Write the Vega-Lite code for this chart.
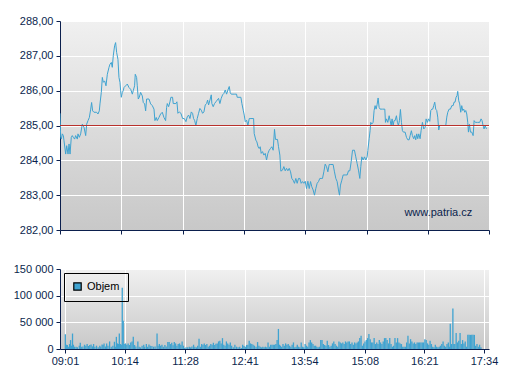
{
"$schema": "https://vega.github.io/schema/vega-lite/v6.json",
"autosize": {"type": "pad"},
"padding": {"left": 13, "top": 15, "right": 4, "bottom": 4},
"background": "white",
"bounds": "flush",
"spacing": 39,
"resolve": {"legend": {"color": "independent"}, "scale": {"color": "independent"}},
"config": {
  "font": "Liberation Sans",
  "view": {"stroke": null, "fill": {"gradient": "linear", "x1": 0, "y1": 0, "x2": 0, "y2": 1, "stops": [{"offset": 0, "color": "#f0f0f0"}, {"offset": 1, "color": "#c8c8c8"}]}},
  "axis": {"domainColor": "#0b1f4d", "tickColor": "#0b1f4d", "labelColor": "#0b1f4d", "labelFont": "Liberation Sans", "labelFontSize": 11, "gridColor": "#ffffff", "gridWidth": 1, "gridOpacity": 1, "tickSize": 4, "title": null, "domainWidth": 1, "tickWidth": 1, "labelOverlap": false}
},
"datasets": {
"price": [
{"t":541,"p":285.35},{"t":541.8,"p":284.66},{"t":542.6,"p":284.61},{"t":543.8,"p":284.76},{"t":545,"p":284.71},{"t":545.8,"p":284.56},{"t":547.8,"p":284.18},{"t":549,"p":284.42},{"t":550.6,"p":284.18},{"t":551.8,"p":284.47},{"t":553,"p":284.18},{"t":554.5,"p":284.66},{"t":555.7,"p":284.71},{"t":556.9,"p":284.66},{"t":558.5,"p":284.61},{"t":559.7,"p":284.71},{"t":561.7,"p":284.61},{"t":562.5,"p":284.76},{"t":564.1,"p":284.66},{"t":565.7,"p":284.76},{"t":567.7,"p":285.04},{"t":569.7,"p":284.95},{"t":571.7,"p":284.71},{"t":572.9,"p":285.04},{"t":574.5,"p":285.14},{"t":576.1,"p":285.23},{"t":577.7,"p":285.47},{"t":578.8,"p":285.66},{"t":580,"p":285.42},{"t":581.6,"p":285.38},{"t":584.8,"p":285.38},{"t":586.4,"p":285.33},{"t":588,"p":285.42},{"t":588.8,"p":285.62},{"t":590.4,"p":285.95},{"t":591.6,"p":286.38},{"t":592.8,"p":286.24},{"t":594.4,"p":286.28},{"t":596,"p":286.14},{"t":597.6,"p":286.47},{"t":599.6,"p":286.67},{"t":600.8,"p":286.76},{"t":602.4,"p":286.81},{"t":603.5,"p":286.67},{"t":604.7,"p":287.0},{"t":606.3,"p":287.29},{"t":607.5,"p":287.38},{"t":608.7,"p":287.1},{"t":610.3,"p":286.9},{"t":611.5,"p":286.38},{"t":612.7,"p":286.24},{"t":613.5,"p":286.0},{"t":614.3,"p":285.81},{"t":615.5,"p":285.95},{"t":616.7,"p":286.0},{"t":617.5,"p":286.09},{"t":619.5,"p":286.14},{"t":621.5,"p":286.19},{"t":623.5,"p":286.09},{"t":625.5,"p":286.04},{"t":627.5,"p":285.9},{"t":628.6,"p":286.0},{"t":630.2,"p":286.14},{"t":631,"p":286.47},{"t":632.6,"p":286.38},{"t":633.4,"p":286.14},{"t":634.6,"p":285.76},{"t":635.8,"p":285.81},{"t":637.4,"p":285.95},{"t":639.4,"p":285.85},{"t":640.6,"p":285.66},{"t":642.2,"p":285.62},{"t":643.4,"p":285.42},{"t":644.6,"p":285.76},{"t":647.4,"p":285.76},{"t":649.4,"p":285.62},{"t":651.4,"p":285.57},{"t":653.4,"p":285.47},{"t":654.5,"p":285.14},{"t":656.1,"p":285.23},{"t":657.3,"p":285.14},{"t":659.3,"p":285.23},{"t":661.3,"p":285.33},{"t":663.3,"p":285.38},{"t":665.3,"p":285.23},{"t":667.3,"p":285.14},{"t":668.5,"p":285.52},{"t":669.3,"p":285.63},{"t":670.9,"p":285.54},{"t":672.5,"p":285.68},{"t":673.6,"p":285.81},{"t":675.6,"p":285.81},{"t":676.4,"p":285.63},{"t":679.6,"p":285.63},{"t":680.8,"p":285.68},{"t":682.0,"p":285.35},{"t":683.6,"p":285.39},{"t":685.6,"p":285.35},{"t":687.6,"p":285.2},{"t":689.6,"p":285.2},{"t":691.6,"p":285.11},{"t":693.2,"p":285.25},{"t":694.8,"p":285.3},{"t":696.4,"p":285.2},{"t":698.0,"p":285.39},{"t":699.5,"p":285.35},{"t":700.7,"p":285.2},{"t":701.9,"p":285.15},{"t":703.5,"p":285.0},{"t":705.1,"p":285.2},{"t":706.7,"p":285.35},{"t":708.3,"p":285.49},{"t":709.9,"p":285.44},{"t":711.5,"p":285.35},{"t":713.1,"p":285.39},{"t":714.7,"p":285.59},{"t":716.3,"p":285.63},{"t":717.5,"p":285.73},{"t":718.7,"p":285.59},{"t":720.3,"p":285.73},{"t":721.9,"p":285.88},{"t":722.6,"p":285.63},{"t":724.2,"p":285.54},{"t":725.8,"p":285.63},{"t":727.4,"p":285.68},{"t":729.0,"p":285.73},{"t":730.6,"p":285.78},{"t":732.2,"p":285.63},{"t":733.8,"p":285.78},{"t":735.4,"p":285.88},{"t":737.0,"p":285.92},{"t":738.6,"p":286.02},{"t":740.2,"p":285.9},{"t":741.8,"p":286.02},{"t":743.4,"p":286.12},{"t":744.6,"p":285.94},{"t":745.8,"p":285.9},{"t":749.3,"p":285.9},{"t":752.1,"p":285.9},{"t":752.9,"p":285.81},{"t":757.3,"p":285.81},{"t":758.5,"p":285.63},{"t":760.1,"p":285.44},{"t":761.3,"p":285.3},{"t":762.5,"p":285.11},{"t":764.1,"p":285.15},{"t":765.7,"p":285.0},{"t":767.3,"p":285.2},{"t":769.3,"p":285.2},{"t":772.5,"p":285.2},{"t":773.2,"p":284.77},{"t":775.2,"p":284.58},{"t":776.4,"p":284.53},{"t":778.0,"p":284.38},{"t":779.2,"p":284.34},{"t":780.4,"p":284.39},{"t":781.6,"p":284.2},{"t":783.2,"p":284.25},{"t":784.8,"p":284.15},{"t":786.4,"p":284.2},{"t":788.0,"p":284.01},{"t":789.6,"p":284.2},{"t":791.2,"p":284.29},{"t":792.7,"p":284.34},{"t":794.3,"p":284.39},{"t":795.9,"p":284.29},{"t":797.5,"p":284.89},{"t":798.7,"p":284.6},{"t":801.1,"p":284.6},{"t":802.3,"p":284.39},{"t":803.9,"p":284.15},{"t":805.1,"p":283.69},{"t":807.1,"p":283.72},{"t":808.7,"p":283.82},{"t":810.3,"p":283.7},{"t":811.9,"p":283.77},{"t":813.5,"p":283.7},{"t":815.1,"p":283.77},{"t":816.7,"p":283.67},{"t":818.2,"p":283.48},{"t":819.8,"p":283.43},{"t":821.4,"p":283.34},{"t":823.0,"p":283.48},{"t":824.6,"p":283.34},{"t":826.2,"p":283.48},{"t":827.8,"p":283.48},{"t":829.4,"p":283.34},{"t":831.0,"p":283.39},{"t":832.6,"p":283.34},{"t":834.2,"p":283.4},{"t":835.8,"p":283.19},{"t":837.4,"p":283.4},{"t":839.0,"p":283.19},{"t":840.6,"p":283.39},{"t":842.1,"p":283.24},{"t":843.7,"p":283.15},{"t":845.3,"p":283.0},{"t":846.9,"p":283.19},{"t":848.5,"p":283.34},{"t":850.1,"p":283.39},{"t":851.7,"p":283.48},{"t":853.3,"p":283.48},{"t":854.9,"p":283.48},{"t":856.5,"p":283.67},{"t":858.1,"p":283.89},{"t":859.7,"p":283.82},{"t":861.3,"p":283.67},{"t":862.9,"p":283.88},{"t":864.9,"p":283.88},{"t":867.6,"p":283.88},{"t":869.2,"p":283.67},{"t":870.8,"p":283.48},{"t":872.4,"p":283.39},{"t":874.0,"p":283.15},{"t":875.2,"p":283.0},{"t":876.4,"p":283.29},{"t":878.0,"p":283.43},{"t":879.6,"p":283.58},{"t":882.0,"p":283.58},{"t":884.4,"p":283.58},{"t":886.0,"p":283.7},{"t":887.6,"p":283.7},{"t":889.2,"p":283.96},{"t":890.8,"p":284.29},{"t":893.1,"p":284.29},{"t":894.7,"p":284.1},{"t":896.3,"p":283.91},{"t":897.9,"p":283.72},{"t":899.5,"p":283.48},{"t":900.7,"p":283.82},{"t":901.9,"p":284.1},{"t":903.5,"p":284.01},{"t":905.1,"p":284.1},{"t":906.7,"p":284.01},{"t":908.3,"p":284.1},{"t":909.1,"p":284.28},{"t":910.7,"p":284.62},{"t":911.8,"p":284.85},{"t":912.6,"p":285.09},{"t":913.8,"p":285.04},{"t":915.4,"p":285.09},{"t":916.6,"p":285.43},{"t":917.8,"p":285.57},{"t":919.0,"p":285.47},{"t":920.2,"p":285.6},{"t":921.4,"p":285.79},{"t":922.6,"p":285.52},{"t":923.8,"p":285.47},{"t":926.6,"p":285.47},{"t":929.4,"p":285.47},{"t":930.2,"p":285.09},{"t":931.4,"p":285.19},{"t":933.0,"p":285.09},{"t":934.6,"p":285.28},{"t":935.8,"p":285.14},{"t":937.0,"p":285.0},{"t":938.1,"p":285.19},{"t":939.3,"p":285.0},{"t":940.5,"p":285.14},{"t":941.7,"p":285.14},{"t":943.3,"p":285.28},{"t":944.5,"p":285.09},{"t":945.7,"p":285.0},{"t":946.9,"p":285.14},{"t":948.1,"p":285.46},{"t":949.3,"p":285.09},{"t":950.5,"p":284.85},{"t":951.7,"p":284.81},{"t":953.7,"p":284.81},{"t":955.3,"p":284.66},{"t":956.9,"p":284.59},{"t":958.5,"p":284.59},{"t":959.7,"p":284.71},{"t":961.2,"p":284.85},{"t":962.4,"p":284.71},{"t":964.0,"p":284.62},{"t":965.2,"p":284.71},{"t":966.4,"p":284.59},{"t":967.6,"p":284.76},{"t":968.8,"p":284.62},{"t":970.0,"p":284.76},{"t":971.6,"p":284.62},{"t":972.8,"p":284.85},{"t":974.4,"p":285.09},{"t":976.0,"p":284.9},{"t":977.6,"p":284.95},{"t":978.8,"p":285.19},{"t":980.4,"p":285.09},{"t":981.6,"p":285.19},{"t":983.2,"p":285.12},{"t":984.4,"p":285.43},{"t":985.6,"p":285.47},{"t":986.7,"p":285.47},{"t":987.9,"p":285.57},{"t":989.1,"p":285.67},{"t":990.3,"p":285.47},{"t":991.5,"p":285.43},{"t":992.7,"p":285.24},{"t":993.9,"p":284.87},{"t":995.1,"p":285.0},{"t":1002.3,"p":285.0},{"t":1003.5,"p":285.24},{"t":1004.7,"p":285.38},{"t":1006.3,"p":285.47},{"t":1007.9,"p":285.47},{"t":1009.5,"p":285.57},{"t":1011.1,"p":285.57},{"t":1012.2,"p":285.67},{"t":1013.4,"p":285.67},{"t":1014.6,"p":285.81},{"t":1015.8,"p":285.86},{"t":1016.6,"p":285.98},{"t":1017.8,"p":285.71},{"t":1019.0,"p":285.62},{"t":1020.2,"p":285.38},{"t":1021.4,"p":285.57},{"t":1022.6,"p":285.43},{"t":1023.8,"p":285.47},{"t":1025.0,"p":285.38},{"t":1026.2,"p":285.43},{"t":1027.4,"p":285.33},{"t":1028.6,"p":285.09},{"t":1029.4,"p":284.81},{"t":1030.6,"p":285.04},{"t":1031.8,"p":284.81},{"t":1033.4,"p":284.81},{"t":1035.0,"p":284.71},{"t":1036.2,"p":285.14},{"t":1037.7,"p":285.09},{"t":1040.1,"p":285.09},{"t":1042.9,"p":285.09},{"t":1044.5,"p":285.19},{"t":1045.7,"p":285.14},{"t":1046.9,"p":285.0},{"t":1048.1,"p":284.9},{"t":1049.3,"p":285.0},{"t":1051,"p":284.9}
],
"vol": [
{"t":541.4,"v":27800},{"t":542.6,"v":8000},{"t":543.8,"v":7400},{"t":545.0,"v":4300},{"t":546.6,"v":9300},{"t":547.8,"v":16700},{"t":549.0,"v":6200},{"t":550.2,"v":29000},{"t":551.3,"v":8000},{"t":552.5,"v":4300},{"t":554.5,"v":4300},{"t":556.1,"v":3100},{"t":558.5,"v":6200},{"t":559.7,"v":11700},{"t":560.9,"v":4300},{"t":562.9,"v":4900},{"t":564.9,"v":8000},{"t":566.5,"v":6200},{"t":568.1,"v":9300},{"t":569.7,"v":5600},{"t":571.3,"v":7400},{"t":572.9,"v":8600},{"t":574.5,"v":4900},{"t":576.0,"v":9300},{"t":577.6,"v":4300},{"t":579.6,"v":6200},{"t":581.6,"v":3100},{"t":583.6,"v":6200},{"t":584.8,"v":4300},{"t":586.4,"v":8600},{"t":587.6,"v":7400},{"t":588.8,"v":10500},{"t":590.4,"v":4900},{"t":592.0,"v":10500},{"t":593.6,"v":6200},{"t":595.6,"v":14200},{"t":597.6,"v":4300},{"t":599.6,"v":6200},{"t":601.5,"v":13600},{"t":602.7,"v":4300},{"t":603.9,"v":22800},{"t":605.1,"v":10500},{"t":606.3,"v":9300},{"t":607.5,"v":29000},{"t":608.7,"v":9300},{"t":609.9,"v":8000},{"t":611.1,"v":115000},{"t":612.3,"v":53000},{"t":613.5,"v":9300},{"t":615.1,"v":10500},{"t":616.7,"v":8000},{"t":618.3,"v":10500},{"t":619.9,"v":7400},{"t":621.5,"v":12300},{"t":623.1,"v":14200},{"t":624.6,"v":22800},{"t":626.2,"v":7400},{"t":627.8,"v":4900},{"t":630.2,"v":14200},{"t":631.8,"v":4300},{"t":633.4,"v":3100},{"t":635.4,"v":6200},{"t":637.4,"v":8000},{"t":638.6,"v":4300},{"t":640.6,"v":9300},{"t":642.2,"v":4300},{"t":643.8,"v":8600},{"t":645.4,"v":6200},{"t":647.4,"v":5600},{"t":649.4,"v":4300},{"t":651.3,"v":4900},{"t":653.7,"v":29000},{"t":654.9,"v":6200},{"t":656.5,"v":9300},{"t":658.1,"v":6200},{"t":659.7,"v":8000},{"t":661.3,"v":4300},{"t":663.3,"v":7400},{"t":664.9,"v":4900},{"t":666.9,"v":13000},{"t":668.5,"v":13000},{"t":670.1,"v":9300},{"t":671.7,"v":11700},{"t":673.3,"v":6800},{"t":674.8,"v":13000},{"t":676.4,"v":10500},{"t":678.0,"v":6200},{"t":679.6,"v":9300},{"t":681.2,"v":10500},{"t":682.8,"v":8000},{"t":684.4,"v":14200},{"t":686.0,"v":6200},{"t":687.6,"v":1900},{"t":689.2,"v":3100},{"t":691.2,"v":3100},{"t":693.2,"v":4300},{"t":694.8,"v":3100},{"t":696.4,"v":4900},{"t":698.4,"v":8000},{"t":700.0,"v":4300},{"t":701.9,"v":3100},{"t":703.5,"v":6200},{"t":705.1,"v":19100},{"t":706.7,"v":4300},{"t":708.3,"v":9300},{"t":709.9,"v":8000},{"t":711.5,"v":10500},{"t":713.1,"v":7400},{"t":714.7,"v":9300},{"t":716.3,"v":4300},{"t":717.9,"v":6200},{"t":719.5,"v":9300},{"t":721.1,"v":8000},{"t":722.7,"v":11700},{"t":724.3,"v":7400},{"t":725.8,"v":9900},{"t":727.4,"v":10500},{"t":729.0,"v":14200},{"t":730.6,"v":15400},{"t":732.2,"v":10500},{"t":733.8,"v":20400},{"t":735.4,"v":8000},{"t":737.0,"v":6200},{"t":738.6,"v":14200},{"t":740.2,"v":10500},{"t":741.8,"v":8000},{"t":743.4,"v":12300},{"t":745.0,"v":6200},{"t":747.0,"v":3100},{"t":749.0,"v":8000},{"t":751.0,"v":4300},{"t":752.9,"v":3100},{"t":754.9,"v":4300},{"t":756.9,"v":1900},{"t":758.5,"v":8000},{"t":760.1,"v":5600},{"t":761.7,"v":4300},{"t":763.3,"v":7400},{"t":764.9,"v":8000},{"t":766.5,"v":15400},{"t":768.1,"v":10500},{"t":769.7,"v":9300},{"t":771.3,"v":8000},{"t":772.9,"v":6200},{"t":774.9,"v":4300},{"t":776.8,"v":13000},{"t":778.4,"v":6200},{"t":780.0,"v":4300},{"t":781.6,"v":3100},{"t":783.2,"v":4300},{"t":784.8,"v":3100},{"t":786.4,"v":4300},{"t":788.0,"v":3100},{"t":789.6,"v":12300},{"t":791.2,"v":4300},{"t":792.8,"v":8000},{"t":794.4,"v":8000},{"t":796.0,"v":8000},{"t":797.6,"v":8000},{"t":799.2,"v":9300},{"t":800.7,"v":16700},{"t":802.3,"v":37600},{"t":803.5,"v":8000},{"t":804.7,"v":6200},{"t":806.3,"v":4300},{"t":807.9,"v":9300},{"t":809.5,"v":6200},{"t":811.1,"v":10500},{"t":812.7,"v":8000},{"t":814.3,"v":9300},{"t":815.9,"v":6200},{"t":817.5,"v":4300},{"t":819.1,"v":8000},{"t":820.7,"v":12300},{"t":822.3,"v":3100},{"t":823.9,"v":4300},{"t":825.4,"v":8000},{"t":827.0,"v":4300},{"t":828.6,"v":3100},{"t":830.2,"v":12300},{"t":831.8,"v":4300},{"t":833.4,"v":3100},{"t":835.0,"v":9300},{"t":836.6,"v":6200},{"t":838.2,"v":4300},{"t":839.8,"v":12300},{"t":841.4,"v":16700},{"t":843.0,"v":12300},{"t":844.6,"v":9300},{"t":846.2,"v":6200},{"t":847.8,"v":6200},{"t":849.3,"v":4300},{"t":850.9,"v":3100},{"t":852.5,"v":4300},{"t":854.1,"v":16700},{"t":855.7,"v":16700},{"t":857.3,"v":9300},{"t":858.9,"v":7400},{"t":860.5,"v":6200},{"t":862.1,"v":15400},{"t":863.7,"v":7400},{"t":865.3,"v":4300},{"t":866.9,"v":6200},{"t":868.5,"v":10500},{"t":870.1,"v":14200},{"t":871.7,"v":9300},{"t":873.3,"v":6200},{"t":874.9,"v":4300},{"t":876.4,"v":14200},{"t":878.0,"v":12300},{"t":879.6,"v":10500},{"t":881.2,"v":12300},{"t":882.8,"v":9300},{"t":884.4,"v":14200},{"t":886.0,"v":12300},{"t":887.6,"v":14200},{"t":889.2,"v":14200},{"t":890.8,"v":9300},{"t":892.4,"v":12300},{"t":894.0,"v":8000},{"t":895.6,"v":12300},{"t":897.2,"v":10500},{"t":898.8,"v":12300},{"t":900.3,"v":14200},{"t":901.9,"v":20400},{"t":903.5,"v":24700},{"t":905.1,"v":6200},{"t":906.7,"v":10500},{"t":908.3,"v":14200},{"t":909.9,"v":16700},{"t":911.5,"v":20400},{"t":913.1,"v":28000},{"t":914.7,"v":18500},{"t":916.3,"v":12300},{"t":917.9,"v":12300},{"t":919.5,"v":20400},{"t":921.1,"v":9300},{"t":922.7,"v":12300},{"t":924.2,"v":9300},{"t":925.8,"v":16700},{"t":927.4,"v":12300},{"t":929.0,"v":9300},{"t":930.6,"v":14200},{"t":932.2,"v":20400},{"t":933.8,"v":20400},{"t":935.4,"v":16700},{"t":937.0,"v":10500},{"t":938.6,"v":20400},{"t":940.2,"v":9300},{"t":941.8,"v":4300},{"t":943.4,"v":6200},{"t":945.0,"v":20400},{"t":946.6,"v":12300},{"t":948.2,"v":20400},{"t":949.8,"v":12300},{"t":951.3,"v":10500},{"t":952.9,"v":9300},{"t":954.5,"v":4300},{"t":956.1,"v":4300},{"t":957.7,"v":4300},{"t":959.3,"v":12300},{"t":960.9,"v":24700},{"t":962.5,"v":10500},{"t":964.1,"v":18500},{"t":965.7,"v":14200},{"t":967.3,"v":10500},{"t":968.9,"v":12300},{"t":970.5,"v":9300},{"t":972.1,"v":12300},{"t":973.6,"v":12300},{"t":975.2,"v":12300},{"t":976.8,"v":12300},{"t":978.4,"v":12300},{"t":980.0,"v":12300},{"t":981.6,"v":18500},{"t":983.2,"v":16700},{"t":984.8,"v":10500},{"t":986.4,"v":8000},{"t":988.0,"v":15400},{"t":989.6,"v":9300},{"t":991.2,"v":4300},{"t":992.8,"v":3100},{"t":994.4,"v":8000},{"t":996.0,"v":4300},{"t":997.6,"v":3100},{"t":999.2,"v":4300},{"t":1000.7,"v":6200},{"t":1002.3,"v":9300},{"t":1003.9,"v":14200},{"t":1005.5,"v":6200},{"t":1007.1,"v":4300},{"t":1008.7,"v":9300},{"t":1010.3,"v":12300},{"t":1011.9,"v":4300},{"t":1012.7,"v":47500},{"t":1014.3,"v":9300},{"t":1015.9,"v":76000},{"t":1017.1,"v":9300},{"t":1018.3,"v":9300},{"t":1019.9,"v":30200},{"t":1021.5,"v":12300},{"t":1023.1,"v":15400},{"t":1024.7,"v":30200},{"t":1026.2,"v":9300},{"t":1027.8,"v":16700},{"t":1029.4,"v":10500},{"t":1031.0,"v":14200},{"t":1032.6,"v":4300},{"t":1034.2,"v":26500},{"t":1035.8,"v":26500},{"t":1037.4,"v":26500},{"t":1039.0,"v":26500},{"t":1040.6,"v":26500},{"t":1042.2,"v":26500},{"t":1043.8,"v":6200},{"t":1045.4,"v":9300},{"t":1047.0,"v":4300},{"t":1048.6,"v":8000},{"t":1050.2,"v":3100}
]
},
"vconcat": [
  {
    "width": 429,
    "height": 209,
    "layer": [
      {
        "data": {"name": "price"},
        "mark": {"type": "line", "stroke": "#3fa3d1", "strokeWidth": 1, "clip": true},
        "encoding": {
          "x": {"field": "t", "type": "quantitative", "scale": {"domain": [541, 1054], "nice": false, "zero": false},
                "axis": {"values": [541, 614, 688, 761, 834, 908, 981, 1054], "labels": false, "grid": true}},
          "y": {"field": "p", "type": "quantitative", "scale": {"domain": [282, 288], "nice": false, "zero": false},
                "axis": {"values": [282, 283, 284, 285, 286, 287, 288], "tickCount": 7, "labelPadding": 3, "labelExpr": "replace(format(datum.value, '.2f'), '.', ',')"}}
        }
      },
      {
        "data": {"values": [{"prevClose": 285}]},
        "mark": {"type": "rule", "stroke": "#b8312c", "strokeWidth": 1},
        "encoding": {"y": {"field": "prevClose", "type": "quantitative",
                "axis": {"values": [282, 283, 284, 285, 286, 287, 288], "tickCount": 7, "labelPadding": 3, "labelExpr": "replace(format(datum.value, '.2f'), '.', ',')"}}}
      },
      {
        "data": {"values": [{"label": "www.patria.cz"}]},
        "mark": {"type": "text", "align": "right", "baseline": "alphabetic", "fontSize": 11, "font": "Liberation Sans", "fill": "#0b1f4d"},
        "encoding": {
          "x": {"datum": 1034, "type": "quantitative",
                "axis": {"values": [541, 614, 688, 761, 834, 908, 981, 1054], "labels": false, "grid": true}},
          "y": {"datum": 282.4, "type": "quantitative",
                "axis": {"values": [282, 283, 284, 285, 286, 287, 288], "tickCount": 7, "labelPadding": 3, "labelExpr": "replace(format(datum.value, '.2f'), '.', ',')"}},
          "text": {"field": "label"}
        }
      }
    ]
  },
  {
    "width": 429,
    "height": 80,
    "data": {"name": "vol"},
    "mark": {"type": "bar", "size": 1.3, "clip": true},
    "encoding": {
      "x": {"field": "t", "type": "quantitative", "scale": {"domain": [541, 1054], "nice": false, "zero": false},
            "axis": {"values": [541, 614, 688, 761, 834, 908, 981, 1054], "labelPadding": 2,
                     "labelExpr": "(datum.value < 600 ? '0' : '') + floor(datum.value / 60) + ':' + (datum.value % 60 < 10 ? '0' : '') + (datum.value % 60)"}},
      "y": {"field": "v", "type": "quantitative", "scale": {"domain": [0, 150000], "nice": false},
            "axis": {"values": [0, 50000, 100000, 150000], "labelPadding": 3, "labelExpr": "replace(format(datum.value, ','), ',', ' ')"}},
      "color": {"datum": "Objem", "type": "nominal", "scale": {"range": ["#3fa3d1"]},
                "legend": {"orient": "top-left", "offset": 4, "title": null, "strokeColor": "#000000", "padding": 8,
                           "symbolType": "square", "symbolSize": 55, "symbolStrokeColor": "#000000", "symbolStrokeWidth": 1.2,
                           "labelFontSize": 11, "labelColor": "#000000", "labelFont": "Liberation Sans", "labelOffset": 4}}
    }
  }
]
}
